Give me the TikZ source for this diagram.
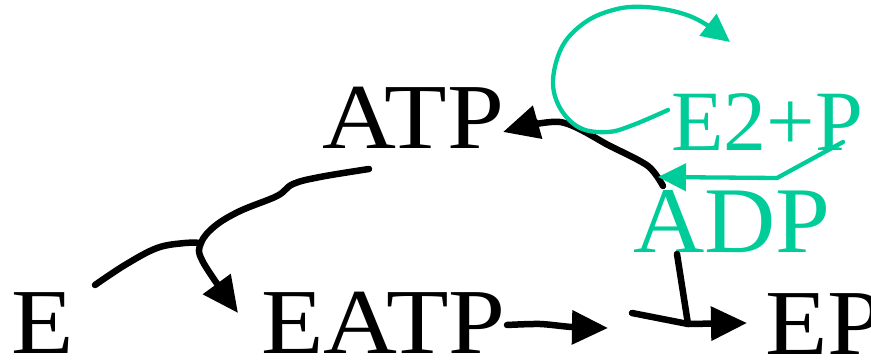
\documentclass[tikz,border=0pt]{standalone}
\usepackage{fontspec}
\setmainfont{Liberation Serif}
\newfontfamily\widefont{Liberation Serif}[FakeStretch=1.1]
\newfontfamily\midfont{Liberation Serif}[FakeStretch=1.05]
\usetikzlibrary{arrows.meta}
\definecolor{ngreen}{RGB}{0,204,153}
\tikzset{
  lbl/.style={anchor=base west, inner sep=0pt, outer sep=0pt, font=\widefont\fontsize{93}{110}\selectfont},
  blk/.style={line width=6.5pt, black, line cap=round, line join=round},
  grn/.style={line width=4.3pt, ngreen, line cap=round, line join=round},
  bhead/.style={-{Triangle[length=36pt,width=33pt]}},
  ghead/.style={-{Triangle[length=28pt,width=27pt]}}
}
\begin{document}
\begin{tikzpicture}[x=1pt,y=-1pt]
\useasboundingbox (0,0) rectangle (871,361);
% labels
\node[lbl] (E) at (11,353) {E};
\node[lbl] (EATP) at (261,353) {EATP};
\node[lbl] (EP) at (765,354) {EP};
\node[lbl] (ATP) at (322,148) {ATP};
\node[lbl, text=ngreen, font=\rmfamily\fontsize{86}{100}\selectfont] (E2P) at (671,150) {E2+P};
\node[lbl, text=ngreen, font=\midfont\fontsize{94}{110}\selectfont] (ADP) at (633,252) {ADP};
% coordinates
\coordinate (eS) at (95,285);
\coordinate (jn) at (201,243);
\coordinate (atpS) at (369,169);
\coordinate (eatpT) at (238,313);
\coordinate (eatpS) at (507,325);
\coordinate (m1T) at (608,328);
\coordinate (m2S) at (632,313);
\coordinate (m2K) at (688,324);
\coordinate (epT) at (747,323);
\coordinate (adpB) at (677,254);
\coordinate (adpT) at (663,186);
\coordinate (atpT) at (503,132);
\coordinate (e2pS) at (843,142);
\coordinate (gK) at (777,178);
\coordinate (gT) at (658,177);
\coordinate (loopS) at (668,110);
\coordinate (loopT) at (730,42);
% black connectors
\draw[blk] plot[smooth, tension=0.6] coordinates {(eS) (125,265) (157,248) (185,243) (jn)};
\draw[blk, bhead] plot[smooth, tension=0.6] coordinates {(atpS) (320,177) (293,184) (277,196) (240,211) (215,226) (jn) (203,262) (eatpT)};
\draw[blk, bhead] plot[smooth, tension=0.5] coordinates {(eatpS) (540,324) (572,327) (m1T)};
\draw[blk, bhead] (m2S) -- (m2K) -- (epT);
\draw[blk] (adpB) -- (m2K);
\draw[blk, bhead] plot[smooth, tension=0.5] coordinates {(adpT) (648,166) (610,146) (560,122) (atpT)};
% green connectors
\draw[grn, ghead] (e2pS) -- (gK) -- (gT);
\draw[grn, ghead] plot[smooth, tension=0.6] coordinates {(loopS) (633,125) (608,132) (580,128) (560,108) (553,80) (563,45) (587,21) (617,9) (645,7) (677,12) (702,22) (loopT)};
\end{tikzpicture}
\end{document}
